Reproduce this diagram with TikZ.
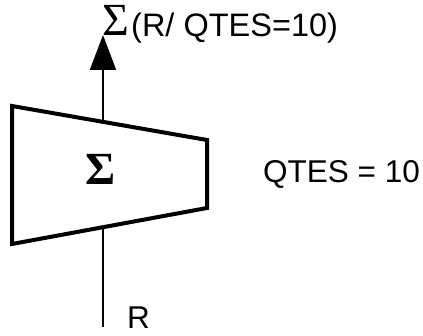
\documentclass[tikz,border=0pt]{standalone}
\usepackage{fontspec}
\setmainfont{Liberation Sans}
\newfontfamily\sigmafont{Liberation Serif}
\usetikzlibrary{arrows.meta}
\tikzset{
  lbl/.style={inner sep=0pt, font=\fontsize{31.5}{36}\selectfont},
  sig/.style={inner sep=0pt, font=\sigmafont\fontsize{46}{50}\selectfont},
  flow/.style={line width=2pt, -{Triangle[length=35pt,width=26pt]}},
  plain/.style={line width=2pt},
  trap/.style={line width=4pt, fill=white, line join=miter}
}
\begin{document}
\begin{tikzpicture}[x=1pt,y=-1pt]
\useasboundingbox (0,0) rectangle (423,336);
\coordinate (bot) at (103,327);
\coordinate (tip) at (103,35);
\draw[plain] (bot) -- (103,200);
\draw[flow] (103,130) -- (tip);
\draw[trap] (12,106) -- (207,140) -- (207,208) -- (12,244) -- cycle;
\node[sig, anchor=base] (box) at (101,185) {\bfseries Σ};
\node[sig, anchor=base west] (topsig) at (102,36) {Σ};
\node[lbl, anchor=base west, font=\fontsize{32.5}{36}\selectfont] (toplbl) at (131,37) {(R/ QTES=10)};
\node[lbl, anchor=base west] (qtes) at (263,183) {QTES = 10};
\node[lbl, anchor=base west] (r) at (127,329) {R};
\end{tikzpicture}
\end{document}
